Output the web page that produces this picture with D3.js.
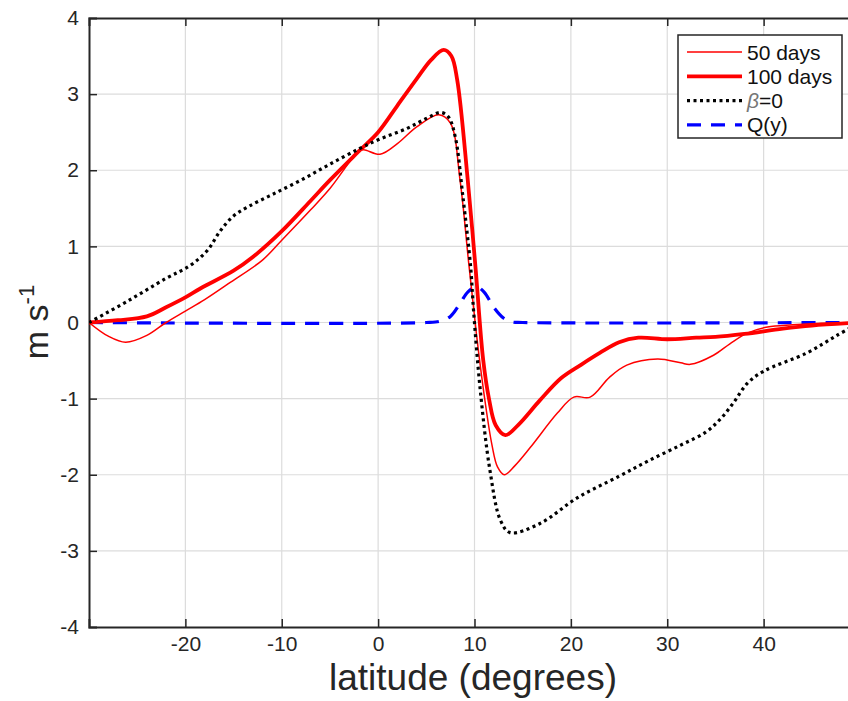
<!DOCTYPE html>
<html>
<head>
<meta charset="utf-8">
<script src="https://cdn.jsdelivr.net/npm/d3@7"></script>
<style>
  body { margin: 0; background: #fff; }
  svg { font-family: "Liberation Sans", Arial, sans-serif; }
</style>
</head>
<body>
<div id="chart"></div>
<script>
// svg size
var svgWidth = 848;
var svgHeight = 701;

// plot box (right edge runs past the picture)
var margin = { top: 18, left: 89 };
var plotWidth = 771;
var plotHeight = 609;

// data
var lat50 = [-30, -28, -26.2, -24, -22, -20, -18, -15.3, -12, -10, -7, -5, -2, -1.5, 0.2, 2, 4, 6.3, 7.5, 8.5, 9.4, 10.2, 11, 11.8, 12.4, 13.1, 14.2, 15.8, 18.6, 20.3, 22, 24, 25.8, 29, 31.4, 32.4, 34.8, 36.5, 38.3, 40.4, 43, 46, 50];
var u50 = [0, -0.18, -0.26, -0.17, 0, 0.15, 0.3, 0.53, 0.82, 1.08, 1.48, 1.76, 2.25, 2.27, 2.21, 2.35, 2.57, 2.73, 2.62, 1.87, 0.78, -0.15, -0.95, -1.6, -1.9, -2.0, -1.88, -1.64, -1.19, -0.98, -0.98, -0.72, -0.56, -0.48, -0.53, -0.55, -0.43, -0.28, -0.14, -0.06, -0.03, -0.01, 0];

var lat100 = [-30, -27, -24, -22, -20, -18.4, -15, -13, -10, -7, -5, -2, 0, 2, 4, 5.5, 6.8, 7.6, 8.2, 9.3, 10.1, 10.9, 11.5, 12.2, 13.2, 14.5, 16.8, 19, 21, 23, 25, 27, 30, 33, 35, 38, 42, 45, 50];
var u100 = [0, 0.03, 0.08, 0.2, 0.33, 0.45, 0.68, 0.86, 1.2, 1.6, 1.87, 2.25, 2.5, 2.85, 3.2, 3.45, 3.58, 3.5, 3.19, 1.87, 0.73, -0.49, -1.0, -1.35, -1.48, -1.35, -1.02, -0.73, -0.56, -0.4, -0.26, -0.2, -0.22, -0.2, -0.19, -0.15, -0.08, -0.04, 0];

var latB0 = [-30, -26, -22, -19.5, -17.7, -16.4, -15, -13.5, -11, -8, -5, -2, 0, 3, 5, 6.5, 7.3, 8, 8.8, 9.6, 9.9, 10.6, 11.6, 12.7, 13.7, 16.8, 20.7, 25, 28, 31.4, 34, 35.5, 36.9, 38.3, 40, 44.5, 47.6, 50];
var uB0 = [0, 0.28, 0.58, 0.75, 0.95, 1.2, 1.4, 1.52, 1.68, 1.87, 2.08, 2.28, 2.4, 2.55, 2.68, 2.76, 2.7, 2.44, 1.65, 0.73, 0.16, -0.89, -1.94, -2.6, -2.76, -2.64, -2.3, -2.02, -1.82, -1.61, -1.44, -1.27, -1.05, -0.8, -0.64, -0.4, -0.17, 0];

var latQ = [-30, 5, 6.5, 7.5, 8.5, 9.3, 10.2, 11, 12, 13, 13.8, 15, 50];
var uQ = [0, 0, 0.02, 0.08, 0.25, 0.4, 0.47, 0.4, 0.2, 0.06, 0.01, 0, 0];

var xTicks = [-30, -20, -10, 0, 10, 20, 30, 40, 50];
var yTicks = [-4, -3, -2, -1, 0, 1, 2, 3, 4];

var legendLabels = ["50 days", "100 days", "\u03b2=0", "Q(y)"];

var svg = d3.select("#chart").append("svg")
    .attr("width", svgWidth)
    .attr("height", svgHeight);

var chartGroup = svg.append("g")
    .attr("transform", `translate(${margin.left}, ${margin.top})`);

var xScale = d3.scaleLinear().domain([-30, 50]).range([0, plotWidth]);
var yScale = d3.scaleLinear().domain([-4, 4]).range([plotHeight, 0]);

// grid
chartGroup.append("g")
    .selectAll("line.vx")
    .data(xTicks.slice(1, -1))
    .enter().append("line")
    .attr("x1", d => xScale(d)).attr("x2", d => xScale(d))
    .attr("y1", 0).attr("y2", plotHeight)
    .attr("stroke", "#dcdcdc").attr("stroke-width", 1.2);

chartGroup.append("g")
    .selectAll("line.hy")
    .data(yTicks.slice(1, -1))
    .enter().append("line")
    .attr("x1", 0).attr("x2", plotWidth)
    .attr("y1", d => yScale(d)).attr("y2", d => yScale(d))
    .attr("stroke", "#dcdcdc").attr("stroke-width", 1.2);

// axes (ticks point inward, like matlab) - plain hyphen for minus
var xAxis = d3.axisBottom(xScale).tickValues(xTicks.slice(1, -1)).tickSize(-8).tickPadding(9).tickFormat(d => String(d));
var xAxisTop = d3.axisTop(xScale).tickValues(xTicks.slice(1, -1)).tickSize(-8).tickFormat("");
var yAxis = d3.axisLeft(yScale).tickValues(yTicks).tickSize(-8).tickPadding(10).tickFormat(d => String(d));

var gx = chartGroup.append("g").attr("transform", `translate(0, ${plotHeight})`).call(xAxis);
var gxt = chartGroup.append("g").call(xAxisTop);
var gy = chartGroup.append("g").call(yAxis);

[gx, gxt, gy].forEach(function(g) {
    g.select(".domain").attr("stroke", "#262626").attr("stroke-width", 2);
    g.selectAll(".tick line").attr("stroke", "#262626").attr("stroke-width", 1.5);
    g.selectAll(".tick text")
        .attr("fill", "#262626")
        .style("font-size", "21px")
        .style("font-family", "Liberation Sans, Arial, sans-serif");
});
// no tick marks at the box corners
gy.selectAll(".tick").filter(d => d === 4 || d === -4).select("line").remove();

// lines
svg.append("clipPath").attr("id", "clip")
    .append("rect").attr("width", plotWidth).attr("height", plotHeight);

var line = d3.line()
    .x(d => xScale(d[0]))
    .y(d => yScale(d[1]))
    .curve(d3.curveCatmullRom.alpha(0.5));

function pairs(xs, ys) { return xs.map((x, i) => [x, ys[i]]); }

var series = [
    { data: pairs(lat50, u50), color: "#ff0000", width: 1.5, dash: null },
    { data: pairs(lat100, u100), color: "#ff0000", width: 3.8, dash: null },
    { data: pairs(latB0, uB0), color: "#000000", width: 3.2, dash: "3,3.5" },
    { data: pairs(latQ, uQ), color: "#0000ff", width: 3.2, dash: "14,10" }
];

var lineGroup = chartGroup.append("g").attr("clip-path", "url(#clip)");
lineGroup.selectAll("path")
    .data([series[3], series[0], series[1], series[2]])
    .enter().append("path")
    .attr("d", d => line(d.data))
    .attr("fill", "none")
    .attr("stroke", d => d.color)
    .attr("stroke-width", d => d.width)
    .attr("stroke-dasharray", d => d.dash);

// legend
var legend = svg.append("g").attr("transform", "translate(678, 35)");
legend.append("rect")
    .attr("width", 164).attr("height", 103)
    .attr("fill", "#fff").attr("stroke", "#262626").attr("stroke-width", 1.5);

var rows = legend.selectAll("g.row")
    .data(series)
    .enter().append("g")
    .attr("transform", (d, i) => `translate(0, ${17 + i * 24.3})`);

rows.append("line")
    .attr("x1", 9).attr("x2", 64)
    .attr("stroke", d => d.color)
    .attr("stroke-width", d => d.width)
    .attr("stroke-dasharray", d => d.dash);

rows.append("text")
    .attr("x", 69).attr("y", 7.5)
    .style("font-size", "21px")
    .attr("fill", "#111")
    .each(function(d, i) {
        var t = d3.select(this);
        if (i === 2) {
            t.append("tspan").text("\u03b2").style("font-style", "italic").attr("fill", "#777");
            t.append("tspan").text("=0");
        } else {
            t.text(legendLabels[i]);
        }
    });

// axis labels
svg.append("text")
    .attr("x", 473).attr("y", 690)
    .attr("text-anchor", "middle")
    .style("font-size", "37px")
    .attr("fill", "#262626")
    .text("latitude (degrees)");

var yl = svg.append("text")
    .attr("transform", "translate(48, 322) rotate(-90)")
    .attr("text-anchor", "middle")
    .style("font-size", "34px")
    .attr("fill", "#262626");
yl.append("tspan").text("m s");
yl.append("tspan").attr("dy", -14).style("font-size", "22px").text("-1");
</script>
</body>
</html>
